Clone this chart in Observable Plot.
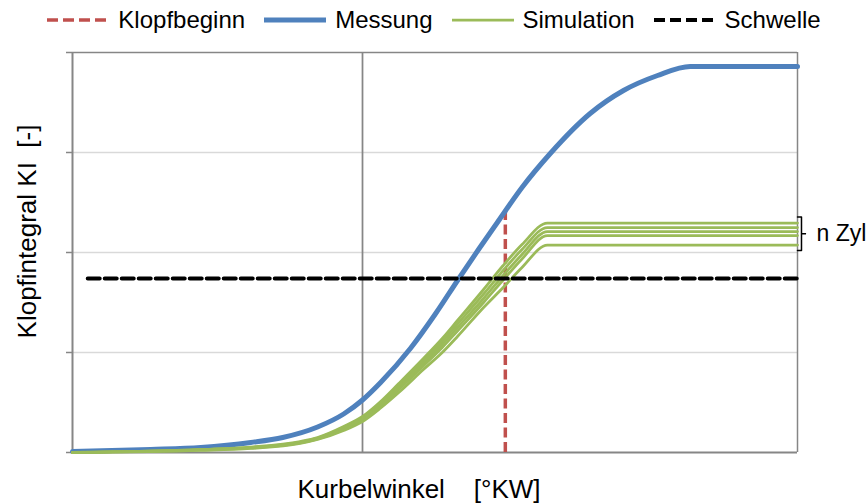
<!DOCTYPE html>
<html><head><meta charset="utf-8">
<script src="https://cdn.jsdelivr.net/npm/d3@7"></script>
<script src="https://cdn.jsdelivr.net/npm/@observablehq/plot@0.6"></script>
<style>
body{margin:0;background:#fff;font-family:"Liberation Sans",Arial,sans-serif;}
#legend{height:40px;width:867px;display:flex;justify-content:center;align-items:center;gap:18px;}
.item{display:flex;align-items:center;gap:8px;font-size:24px;color:#000;white-space:nowrap;}
</style></head><body>
<div id="legend"></div>
<div id="chart"></div>
<script>
// ---- data ----
const seriesNames = ["Klopfbeginn", "Messung", "Simulation", "Schwelle"];
const yTicks = [0, 1, 2, 3, 4];
const gridY = [1, 2, 3];
const markerX = [40];

const messungX = [0, 10.8, 17.7, 24.6, 29, 33.8, 37.4, 40, 42.5, 46.6, 50, 53.2, 56.0, 58.6, 62, 65.9, 71.4, 76.0, 80.7, 85.2, 100];
const messungY = [0.01, 0.03, 0.05, 0.10, 0.15, 0.255, 0.385, 0.525, 0.70, 1.04, 1.38, 1.73, 2.03, 2.30, 2.65, 2.99, 3.39, 3.62, 3.77, 3.86, 3.86];

const simX = [0, 17.7, 24.6, 31.4, 33.8, 37.4, 40, 42.5, 45, 48.4, 51, 53.1, 56.7, 59.4, 62, 65.5, 100];
const sim1 = [0, 0.030, 0.055, 0.110, 0.150, 0.260, 0.360, 0.510, 0.690, 0.940, 1.140, 1.320, 1.630, 1.870, 2.080, 2.295, 2.295];
const sim2 = [0, 0.030, 0.050, 0.105, 0.145, 0.250, 0.350, 0.495, 0.670, 0.915, 1.110, 1.285, 1.585, 1.820, 2.030, 2.250, 2.250];
const sim3 = [0, 0.030, 0.050, 0.100, 0.140, 0.240, 0.340, 0.480, 0.650, 0.890, 1.080, 1.250, 1.540, 1.770, 1.980, 2.210, 2.210];
const sim4 = [0, 0.025, 0.045, 0.095, 0.135, 0.230, 0.330, 0.465, 0.630, 0.865, 1.050, 1.215, 1.500, 1.725, 1.935, 2.170, 2.170];
const sim5 = [0, 0.020, 0.040, 0.090, 0.130, 0.220, 0.310, 0.445, 0.600, 0.830, 1.000, 1.160, 1.450, 1.650, 1.850, 2.075, 2.075];

const klopfX = 59.7;
const klopfY = [0, 2.42];
const schwelleX = [2.1, 100];
const schwelleY = 1.74;

const xTitle = "Kurbelwinkel\u00A0\u00A0\u00A0\u00A0[°KW]";
const yTitle = "Klopfintegral KI\u00A0\u00A0[-]";
const bracketLabel = "n Zyl";

// ---- style ----
const C = {red: "#C0504D", blue: "#4F81BD", green: "#9BBB59", black: "#000000", axis: "#868686", grid: "#D9D9D9"};
const styles = [
  {stroke: C.red, width: 3.5, dash: "11,5"},
  {stroke: C.blue, width: 5, dash: null},
  {stroke: C.green, width: 2.75, dash: null},
  {stroke: C.black, width: 4, dash: "11,5"}
];

// ---- legend ----
const legend = document.getElementById("legend");
seriesNames.forEach((name, i) => {
  const s = styles[i];
  const item = document.createElement("div");
  item.className = "item";
  item.innerHTML = `<svg width="64" height="12"><line x1="1" x2="63" y1="6" y2="6" stroke="${s.stroke}" stroke-width="${s.width}" ${s.dash ? `stroke-dasharray="${s.dash}"` : ""}/></svg><span>${name}</span>`;
  legend.appendChild(item);
});

// ---- tables ----
const messung = messungX.map((x, i) => ({x, y: messungY[i]}));
const sims = [sim1, sim2, sim3, sim4, sim5];
const simData = sims.flatMap((arr, k) => simX.map((x, i) => ({x, y: arr[i], run: k})));
const schwelle = schwelleX.map(x => ({x, y: schwelleY}));
const xMax = 100;
const plateaus = sims.map(a => a[a.length - 1]);
const bTop = Math.max(...plateaus) + 0.06;
const bBot = Math.min(...plateaus) - 0.055;
const bMid = (bTop + bBot) / 2;
const bracket = [[xMax, bTop], [xMax + 0.55, bTop], [xMax + 0.55, bBot], [xMax, bBot]];

const plot = Plot.plot({
  width: 867, height: 464,
  marginLeft: 72, marginRight: 70, marginTop: 12, marginBottom: 52,
  x: {domain: [0, xMax], axis: null},
  y: {domain: [0, 4], axis: null},
  style: {fontFamily: "Liberation Sans, Arial, sans-serif", background: "#fff", color: "#000"},
  marks: [
    Plot.ruleY(gridY, {stroke: C.grid, strokeWidth: 1.5}),
    Plot.ruleY([yTicks[yTicks.length - 1]], {stroke: C.axis, strokeWidth: 1.5}),
    Plot.ruleX([xMax], {stroke: C.axis, strokeWidth: 1.5}),
    Plot.ruleX(markerX, {stroke: C.axis, strokeWidth: 1.75}),
    Plot.ruleX([0], {stroke: C.axis, strokeWidth: 2}),
    Plot.ruleY([0], {stroke: C.axis, strokeWidth: 2}),
    Plot.axisY({ticks: yTicks, tickSize: 6, tickFormat: () => "", stroke: C.axis, strokeWidth: 1.5, label: null}),
    Plot.ruleX([klopfX], {y1: klopfY[1], y2: klopfY[0], stroke: C.red, strokeWidth: 3.5, strokeDasharray: "10,4.5"}),
    Plot.line(messung, {x: "x", y: "y", curve: "monotone-x", stroke: C.blue, strokeWidth: 5}),
    Plot.line(simData, {x: "x", y: "y", z: "run", curve: "monotone-x", stroke: C.green, strokeWidth: 2.75}),
    Plot.line(schwelle, {x: "x", y: "y", stroke: C.black, strokeWidth: 4, strokeDasharray: "12,5"}),
    Plot.line(bracket, {stroke: "#000", strokeWidth: 1.5}),
    Plot.ruleY([bMid], {x1: xMax + 0.55, x2: xMax + 1.25, stroke: "#000", strokeWidth: 1.5}),
    Plot.text([bracketLabel], {text: d => d, x: xMax, y: bMid, dx: 19, textAnchor: "start", fontSize: 23, fill: "#000"}),
    Plot.text([xTitle], {text: d => d, frameAnchor: "bottom", lineAnchor: "top", dx: -16, dy: 27, fontSize: 26, fill: "#000"}),
    Plot.text([yTitle], {text: d => d, frameAnchor: "left", textAnchor: "middle", rotate: -90, dx: -45, dy: -21, fontSize: 26, fill: "#000"})
  ]
});
document.getElementById("chart").appendChild(plot);
</script></body></html>
